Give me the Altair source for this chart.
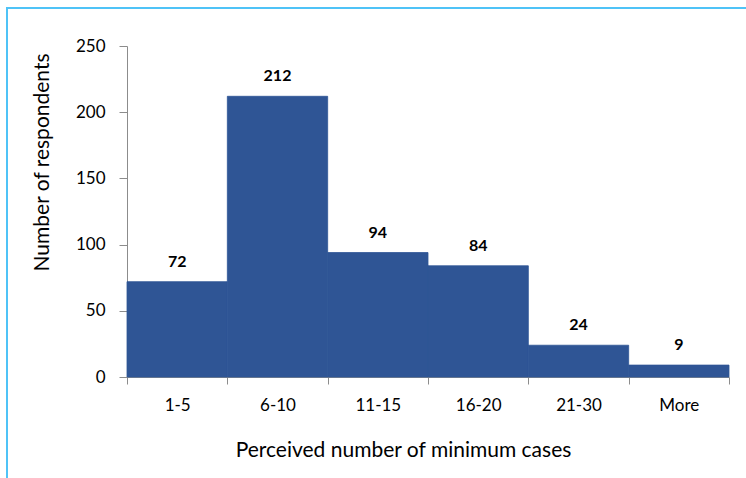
import altair as alt
import pandas as pd

categories = ["1-5", "6-10", "11-15", "16-20", "21-30", "More"]
respondents = [72, 212, 94, 84, 24, 9]

df = pd.DataFrame({"range": categories, "count": respondents})

W, H = 602, 331
FONT = "Lato"
BAR = "#2F5595"
AXIS_GRAY = "#8C8C8C"
FRAME = "#4FC3F7"

y_scale = alt.Scale(domain=[0, 250], nice=False, zero=True)

x_enc = alt.X(
    "range:N",
    sort=categories,
    scale=alt.Scale(paddingInner=0, paddingOuter=0),
    axis=alt.Axis(
        title="Perceived number of minimum cases",
        labelAngle=0,
        tickBand="extent",
        tickSize=7,
        labelPadding=13,
        titleX=276,
        titleY=79,
        titleBaseline="alphabetic",
    ),
)
y_enc = alt.Y(
    "count:Q",
    scale=y_scale,
    axis=alt.Axis(
        title="Number of respondents",
        values=[0, 50, 100, 150, 200, 250],
        tickSize=8,
        labelPadding=14,
        grid=False,
        titleX=-85,
        titleY=116,
        titleBaseline="middle",
        titleAlign="center",
    ),
)

# contiguous bars: a same-colour stroke hides the seams between neighbours
bars = alt.Chart(df).mark_bar(color=BAR, stroke=BAR, strokeWidth=0.8).encode(x=x_enc, y=y_enc)

labels = alt.Chart(df).mark_text(
    font=FONT, fontSize=16, fontWeight="bold", color="black", dy=-15, baseline="alphabetic"
).encode(
    x=alt.X("range:N", sort=categories),
    y=alt.Y("count:Q", scale=y_scale),
    text="count:Q",
)

# thin light-blue frame along the top and left of the chart area
frame_left = alt.Chart(df).mark_rule(color=FRAME, strokeWidth=2, clip=False).encode(
    x=alt.value(-120), y=alt.value(-38), y2=alt.value(H + 101)
)
frame_top = alt.Chart(df).mark_rule(color=FRAME, strokeWidth=2, clip=False).encode(
    x=alt.value(-121), x2=alt.value(W + 17), y=alt.value(-38)
)

chart = (
    alt.layer(bars, labels, frame_left, frame_top)
    .properties(
        width=W,
        height=H,
        autosize=alt.AutoSizeParams(type="none"),
        padding={"left": 127, "top": 46, "right": 17, "bottom": 101},
        background="white",
    )
    .configure_view(stroke=None)
    .configure_axis(
        labelFont=FONT,
        titleFont=FONT,
        labelFontSize=17,
        titleFontSize=21,
        titleFontWeight="normal",
        labelColor="black",
        titleColor="black",
        domainColor=AXIS_GRAY,
        tickColor=AXIS_GRAY,
        domainWidth=1,
        tickWidth=1,
    )
)

chart.save("out.html", embed_options={"renderer": "svg", "actions": False})
